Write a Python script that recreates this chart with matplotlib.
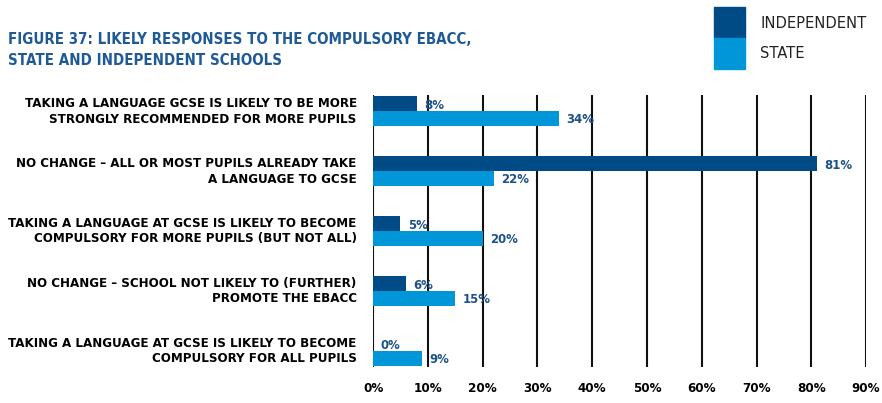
import matplotlib.pyplot as plt
import matplotlib.patches as mpatches
import numpy as np

# Datos del gráfico
categories = [
    "TAKING A LANGUAGE GCSE IS LIKELY TO BE MORE\nSTRONGLY RECOMMENDED FOR MORE PUPILS",
    "NO CHANGE \u2013 ALL OR MOST PUPILS ALREADY TAKE\nA LANGUAGE TO GCSE",
    "TAKING A LANGUAGE AT GCSE IS LIKELY TO BECOME\nCOMPULSORY FOR MORE PUPILS (BUT NOT ALL)",
    "NO CHANGE \u2013 SCHOOL NOT LIKELY TO (FURTHER)\nPROMOTE THE EBACC",
    "TAKING A LANGUAGE AT GCSE IS LIKELY TO BECOME\nCOMPULSORY FOR ALL PUPILS",
]
independent = [8, 81, 5, 6, 0]
state = [34, 22, 20, 15, 9]
x_ticks = [0, 10, 20, 30, 40, 50, 60, 70, 80, 90]

dark = "#004a85"
light = "#0096d8"
label_col = "#1d5289"
title_col = "#1f5a96"
cond = dict(family="DejaVu Sans", fontstretch="condensed", fontweight="bold")

fig = plt.figure(figsize=(8.82, 4.03), dpi=100)
ax = fig.add_axes([0.423, 0.089, 0.559, 0.675])

y = np.arange(len(categories))
h = 0.25
ax.barh(y - h / 2, independent, height=h, color=dark, zorder=3)
ax.barh(y + h / 2, state, height=h, color=light, zorder=3)

for i in range(len(categories)):
    ax.text(independent[i] + 1.3, y[i] - h / 2 + 0.03, f"{independent[i]}%", va="center", ha="left",
            fontsize=9.4, color=label_col, **cond)
    ax.text(state[i] + 1.3, y[i] + h / 2 + 0.02, f"{state[i]}%", va="center", ha="left",
            fontsize=9.4, color=label_col, **cond)
    ax.text(-3, y[i], categories[i], va="center", ha="right", fontsize=9.5,
            color="black", linespacing=1.27, **cond)

ax.set_xlim(0, 90)
ax.set_ylim(4.27, -0.27)
for t in x_ticks:
    ax.axvline(t, color="#111111", lw=1.5, zorder=1)
ax.set_xticks(x_ticks)
ax.set_xticklabels([f"{t}%" for t in x_ticks], fontsize=9.5, **cond)
ax.tick_params(axis="x", length=0, pad=11)
ax.set_yticks([])
for s in ax.spines.values():
    s.set_visible(False)

fig.text(0.009, 0.876, "FIGURE 37: LIKELY RESPONSES TO THE COMPULSORY EBACC,\nSTATE AND INDEPENDENT SCHOOLS",
         fontsize=10.85, color=title_col, va="center", ha="left", linespacing=1.5, **cond)

# Leyenda
fig.patches.append(mpatches.Rectangle((714 / 882, 1 - 38 / 403), 31 / 882, 31 / 403,
                                      transform=fig.transFigure, color=dark))
fig.patches.append(mpatches.Rectangle((714 / 882, 1 - 69 / 403), 31 / 882, 31 / 403,
                                      transform=fig.transFigure, color=light))
fig.text(760 / 882, 1 - 24 / 403, "INDEPENDENT", fontsize=11.8, color="#222222", va="center", ha="left",
         family="DejaVu Sans", fontstretch="condensed")
fig.text(760 / 882, 1 - 53 / 403, "STATE", fontsize=11.8, color="#222222", va="center", ha="left",
         family="DejaVu Sans", fontstretch="condensed")

fig.savefig("out.png", dpi=100)
